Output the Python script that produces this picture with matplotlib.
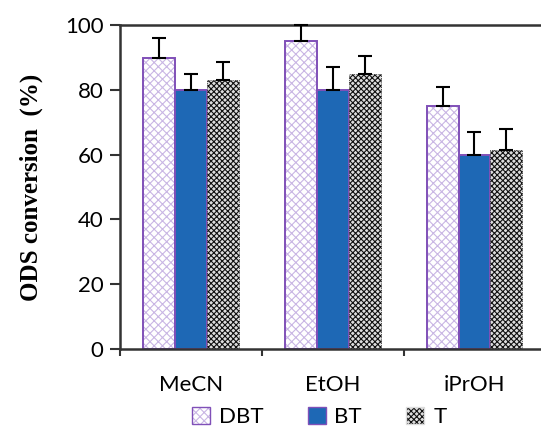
import numpy as np
import matplotlib
matplotlib.use("Agg")
import matplotlib.pyplot as plt
from matplotlib.patches import Patch

solvents = ["MeCN", "EtOH", "iPrOH"]
series = ["DBT", "BT", "T"]
dbt = [90, 95, 75]
bt = [80, 80, 60]
t = [83, 85, 61.5]
dbt_err = [6, 5, 6]
bt_err = [5, 7, 7]
t_err = [5.5, 5.5, 6.5]

plt.rcParams["hatch.linewidth"] = 0.8
fig = plt.figure(figsize=(5.41, 4.34), dpi=100)
ax = fig.add_axes([0.222, 0.196, 0.786, 0.746])

x = np.arange(len(solvents))
w = 0.225
purple = "#8050B8"
styles = [
    dict(facecolor="white", edgecolor=purple, hatch="xxxx", linewidth=1.4),
    dict(facecolor="#1E68B5", edgecolor=purple, linewidth=1.4),
    dict(facecolor="#dddddd", edgecolor="#222222", hatch="xxxxxx", linewidth=0.6, linestyle=":"),
]
values = [dbt, bt, t]
errs = [dbt_err, bt_err, t_err]
for i, (vals, err, st) in enumerate(zip(values, errs, styles)):
    pos = x + (i - 1) * w
    bars = ax.bar(pos, vals, w, zorder=2, **st)
    if i == 0:
        for b in bars:
            b._hatch_color = matplotlib.colors.to_rgba("#c9b6e4")
    elif i == 2:
        for b in bars:
            b._hatch_color = matplotlib.colors.to_rgba("#111111")
    ax.errorbar(pos, vals, yerr=[np.zeros(len(vals)), err], fmt="none",
                ecolor="black", elinewidth=1.5, capsize=5, capthick=1.5,
                zorder=3, clip_on=False)

ax.set_xlim(-0.5, 2.5)
ax.set_ylim(0, 100)
ax.set_yticks([0, 20, 40, 60, 80, 100])
ax.set_xticks(x)
ax.set_xticklabels(solvents)
ax.set_xticks(np.arange(-0.5, 3, 1), minor=True)
ax.tick_params(axis="x", which="major", length=0, pad=19, labelsize=16)
ax.tick_params(axis="x", which="minor", length=5, width=1.5, color="#333333")
ax.tick_params(axis="y", length=7, width=1.5, color="#333333", labelsize=16, pad=5)
for lab in ax.get_xticklabels() + ax.get_yticklabels():
    lab.set_fontfamily("Lato")
for side in ["left", "bottom", "top"]:
    ax.spines[side].set_linewidth(1.8)
    ax.spines[side].set_color("#333333")
ax.spines["right"].set_visible(False)

ax.set_ylabel("ODS conversion  (%)", fontfamily="Liberation Serif",
              fontweight="bold", fontsize=18, labelpad=16)

handles = [
    Patch(facecolor="white", edgecolor=purple, hatch="xxxx", label="DBT"),
    Patch(facecolor="#1E68B5", edgecolor=purple, label="BT"),
    Patch(facecolor="#dddddd", edgecolor="#dddddd", hatch="xxxxxx", label="T"),
]
leg = fig.legend(handles=handles, loc="center", bbox_to_anchor=(0.59, 0.04),
                 ncol=3, frameon=False, handlelength=0.8, handleheight=0.8,
                 columnspacing=2.0, handletextpad=0.4,
                 prop={"family": "Lato", "size": 16})
leg.get_patches()[0]._hatch_color = matplotlib.colors.to_rgba("#c9b6e4")
leg.get_patches()[2]._hatch_color = matplotlib.colors.to_rgba("#111111")

fig.savefig("out.png", dpi=100)
